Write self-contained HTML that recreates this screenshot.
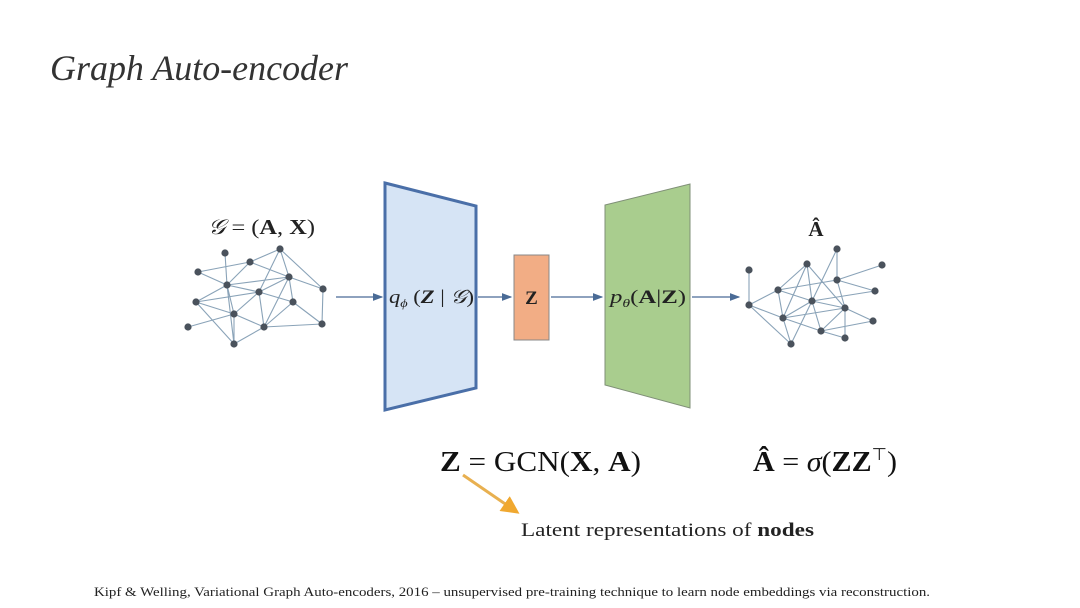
<!DOCTYPE html>
<html><head><meta charset="utf-8"><style>
html,body{margin:0;padding:0;background:#fff;width:1080px;height:608px;overflow:hidden}
svg{display:block}
.s{font-family:"Liberation Serif",serif}
</style></head><body>
<svg width="1080" height="608" viewBox="0 0 1080 608" xmlns="http://www.w3.org/2000/svg">
<defs><marker id="a" markerWidth="8" markerHeight="8" refX="7" refY="4" orient="auto"><path d="M0,1 L8,4 L0,7z" fill="#4a6b96"/></marker>
<marker id="o" markerWidth="6" markerHeight="6" refX="5" refY="3" orient="auto"><path d="M0,0 L6,3 L0,6z" fill="#f0a830"/></marker></defs>
<text x="50" y="80" class="s" font-size="36" font-style="italic" fill="#333" textLength="298" lengthAdjust="spacingAndGlyphs">Graph Auto-encoder</text>

<text x="208" y="234" class="s" font-size="21" fill="#222" textLength="107" lengthAdjust="spacingAndGlyphs"><tspan font-style="italic">𝒢</tspan> = (<tspan font-weight="bold">A</tspan>, <tspan font-weight="bold">X</tspan>)</text>
<g stroke="#8aa3b8" stroke-width="1.1">
<path d="M225,253L227,285M250,262L227,285M198,272L250,262M198,272L227,285M280,249L250,262M280,249L259,292M280,249L289,277M280,249L323,289M250,262L289,277M227,285L289,277M227,285L259,292M227,285L196,302M227,285L234,314M227,285L234,344M259,292L196,302M259,292L234,314M259,292L264,327M259,292L293,302M289,277L259,292M289,277L323,289M289,277L293,302M289,277L264,327M323,289L322,324M293,302L322,324M264,327L322,324M196,302L234,314M234,314L264,327M234,314L234,344M188,327L234,314M264,327L234,344M196,302L234,344M293,302L264,327"/>
</g>
<g fill="#4a525c">
<circle cx="225" cy="253" r="3.6"/><circle cx="250" cy="262" r="3.6"/><circle cx="198" cy="272" r="3.6"/><circle cx="227" cy="285" r="3.6"/><circle cx="280" cy="249" r="3.6"/><circle cx="289" cy="277" r="3.6"/><circle cx="259" cy="292" r="3.6"/><circle cx="323" cy="289" r="3.6"/><circle cx="196" cy="302" r="3.6"/><circle cx="234" cy="314" r="3.6"/><circle cx="293" cy="302" r="3.6"/><circle cx="188" cy="327" r="3.6"/><circle cx="264" cy="327" r="3.6"/><circle cx="322" cy="324" r="3.6"/><circle cx="234" cy="344" r="3.6"/>
</g>

<line x1="336" y1="297" x2="382" y2="297" stroke="#4a6b96" stroke-width="1.3" marker-end="url(#a)"/>
<polygon points="385,183 476,206 476,388 385,410" fill="#d6e4f5" stroke="#4a6fa8" stroke-width="3"/>
<text x="389" y="303" class="s" font-size="19" fill="#222" textLength="85" lengthAdjust="spacingAndGlyphs"><tspan font-style="italic">q</tspan><tspan font-size="12" dy="4" font-style="italic">ϕ</tspan><tspan dy="-4"> (</tspan><tspan font-weight="bold" font-style="italic">Z</tspan> | <tspan font-style="italic">𝒢</tspan>)</text>
<line x1="478" y1="297" x2="511" y2="297" stroke="#4a6b96" stroke-width="1.3" marker-end="url(#a)"/>
<rect x="514" y="255" width="35" height="85" fill="#f2ad85" stroke="#888" stroke-width="1"/>
<text x="531.5" y="304" class="s" font-size="19" font-weight="bold" text-anchor="middle" fill="#222">Z</text>
<line x1="551" y1="297" x2="602" y2="297" stroke="#4a6b96" stroke-width="1.3" marker-end="url(#a)"/>
<polygon points="605,205 690,184 690,408 605,385" fill="#a9cd8e" stroke="#7f8f77" stroke-width="1"/>
<text x="610" y="303" class="s" font-size="19" fill="#222" textLength="76" lengthAdjust="spacingAndGlyphs"><tspan font-style="italic">p</tspan><tspan font-size="12" dy="4" font-style="italic">θ</tspan><tspan dy="-4">(</tspan><tspan font-weight="bold">A</tspan>|<tspan font-weight="bold">Z</tspan>)</text>
<line x1="692" y1="297" x2="739" y2="297" stroke="#4a6b96" stroke-width="1.3" marker-end="url(#a)"/>

<text x="816" y="236" class="s" font-size="21" font-weight="bold" text-anchor="middle" fill="#222">Â</text>
<g stroke="#8aa3b8" stroke-width="1.1">
<path d="M749,270L749,305M749,305L778,290M749,305L783,318M749,305L791,344M778,290L807,264M778,290L783,318M778,290L812,301M807,264L812,301M807,264L845,308M807,264L783,318M837,249L837,280M837,249L812,301M837,280L882,265M837,280L875,291M837,280L845,308M812,301L875,291M812,301L845,308M812,301L783,318M812,301L791,344M812,301L821,331M783,318L845,308M783,318L821,331M845,308L873,321M845,308L845,338M845,308L821,331M821,331L845,338M821,331L873,321M783,318L791,344M778,290L837,280"/>
</g>
<g fill="#4a525c">
<circle cx="749" cy="270" r="3.6"/><circle cx="837" cy="249" r="3.6"/><circle cx="807" cy="264" r="3.6"/><circle cx="882" cy="265" r="3.6"/><circle cx="778" cy="290" r="3.6"/><circle cx="837" cy="280" r="3.6"/><circle cx="875" cy="291" r="3.6"/><circle cx="749" cy="305" r="3.6"/><circle cx="812" cy="301" r="3.6"/><circle cx="845" cy="308" r="3.6"/><circle cx="783" cy="318" r="3.6"/><circle cx="821" cy="331" r="3.6"/><circle cx="873" cy="321" r="3.6"/><circle cx="845" cy="338" r="3.6"/><circle cx="791" cy="344" r="3.6"/>
</g>

<text x="440" y="471" class="s" font-size="29" fill="#111" textLength="201" lengthAdjust="spacingAndGlyphs"><tspan font-weight="bold">Z</tspan> = GCN(<tspan font-weight="bold">X</tspan>, <tspan font-weight="bold">A</tspan>)</text>
<text x="753" y="471" class="s" font-size="29" fill="#111" textLength="144" lengthAdjust="spacingAndGlyphs"><tspan font-weight="bold">Â</tspan> = <tspan font-style="italic">σ</tspan>(<tspan font-weight="bold">ZZ</tspan><tspan font-size="17" dy="-11">⊤</tspan><tspan dy="11">)</tspan></text>
<line x1="463" y1="475" x2="517" y2="512" stroke="#e8b050" stroke-width="3" marker-end="url(#o)"/>
<text x="521" y="536" class="s" font-size="19" fill="#222" textLength="293" lengthAdjust="spacingAndGlyphs">Latent representations of <tspan font-weight="bold">nodes</tspan></text>

<text x="94" y="596" class="s" font-size="13" fill="#222" textLength="836" lengthAdjust="spacingAndGlyphs">Kipf &amp; Welling, Variational Graph Auto-encoders, 2016 – unsupervised pre-training technique to learn node embeddings via reconstruction.</text>
</svg>
</body></html>
